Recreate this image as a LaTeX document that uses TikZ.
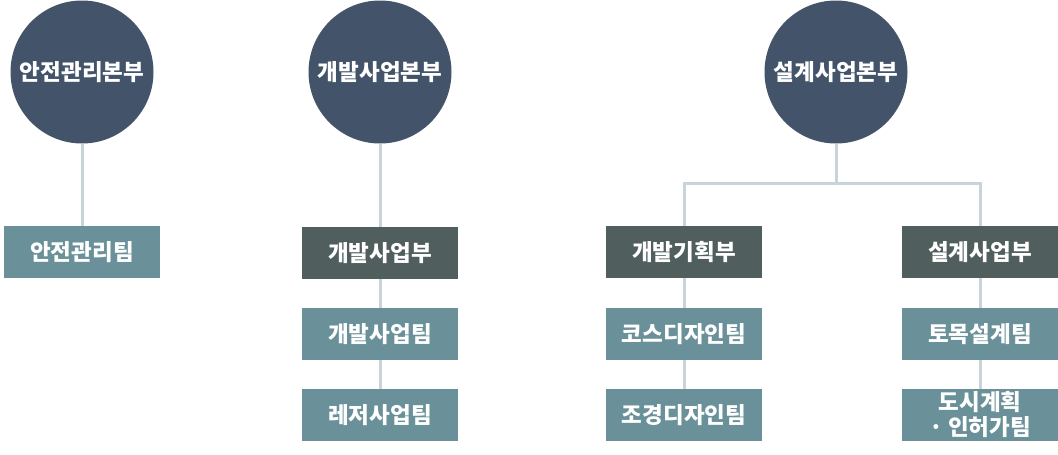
\documentclass[tikz,border=0pt]{standalone}
\usepackage{fontspec}
\usepackage{tikz}
\newfontfamily\krfont{Noto Sans CJK KR}
\definecolor{headblue}{HTML}{43536A}
\definecolor{deptgray}{HTML}{505F5D}
\definecolor{teamteal}{HTML}{6A9199}
\definecolor{linkgray}{HTML}{C7D4D9}

\begin{document}
\begin{tikzpicture}[x=1pt,y=-1pt,
  head/.style={circle, fill=headblue, minimum size=143pt, inner sep=0pt,
    text=white, font=\krfont\bfseries\fontsize{22.5}{25}\selectfont},
  dept/.style={rectangle, fill=deptgray, minimum width=156pt, minimum height=52pt,
    inner sep=0pt, text=white, font=\krfont\bfseries\fontsize{22.5}{25}\selectfont},
  team/.style={dept, fill=teamteal},
  link/.style={draw=linkgray, line width=3pt}]

\useasboundingbox (0,0) rectangle (1058,455);

% top circles
\node[head] (safe) at (82,72) {안전관리본부};
\node[head] (devhq) at (380,72) {개발사업본부};
\node[head] (deshq) at (836,72) {설계사업본부};

% first column
\node[team] (safeteam) at (82,252) {안전관리팀};
\draw[link] (safe.south) -- (safeteam.north);

% second column
\node[dept] (devdept) at (380,253) {개발사업부};
\node[team] (devteam) at (380,334) {개발사업팀};
\node[team] (leisure) at (380,415) {레저사업팀};
\draw[link] (devhq.south) -- (devdept.north);
\draw[link] (devdept.south) -- (devteam.north);
\draw[link] (devteam.south) -- (leisure.north);

% third column
\node[dept] (plan) at (684,252) {개발기획부};
\node[team] (course) at (684,334) {코스디자인팀};
\node[team] (land) at (684,415) {조경디자인팀};
\node[dept] (desdept) at (980,252) {설계사업부};
\node[team] (civil) at (980,334) {토목설계팀};
\node[team, align=center] (urban) at (980,415) {도시계획\\· 인허가팀};

\coordinate (split) at (836,183);
\draw[link] (deshq.south) -- (split);
\draw[link] (plan.north) |- (split) -| (desdept.north);
\draw[link] (plan.south) -- (course.north);
\draw[link] (course.south) -- (land.north);
\draw[link] (desdept.south) -- (civil.north);
\draw[link] (civil.south) -- (urban.north);

\end{tikzpicture}
\end{document}
